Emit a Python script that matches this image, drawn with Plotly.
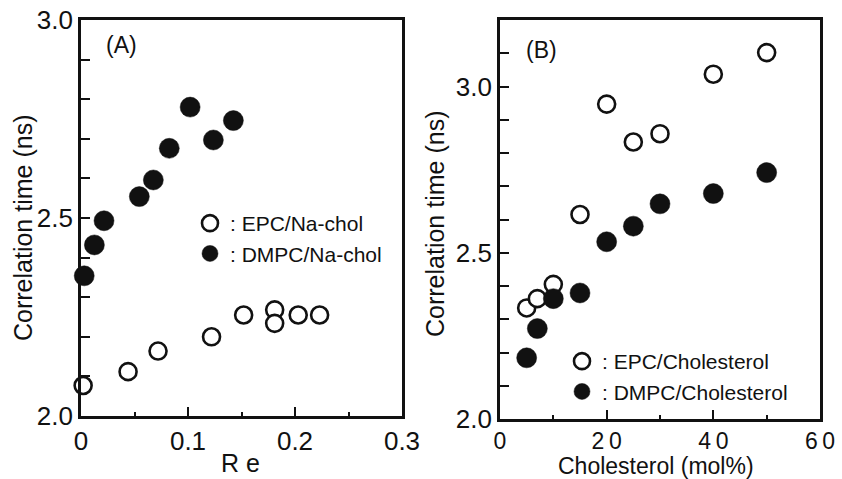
import plotly.graph_objects as go

# ---- Data ----
re_epc = [0.002, 0.044, 0.072, 0.122, 0.152, 0.181, 0.181, 0.203, 0.223]
tau_epc_na = [2.077, 2.112, 2.164, 2.200, 2.255, 2.268, 2.234, 2.255, 2.255]
re_dmpc = [0.003, 0.0125, 0.0215, 0.0545, 0.0676, 0.0825, 0.102, 0.1237, 0.1424]
tau_dmpc_na = [2.354, 2.432, 2.493, 2.554, 2.596, 2.676, 2.780, 2.697, 2.746]

chol_mol = [5, 7, 10, 15, 20, 25, 30, 40, 50]
tau_epc_chol = [2.334, 2.362, 2.405, 2.615, 2.947, 2.833, 2.858, 3.037, 3.102]
tau_dmpc_chol = [2.184, 2.272, 2.362, 2.379, 2.533, 2.580, 2.647, 2.678, 2.741]

# tick labels
a_x_tickvals = [0, 0.1, 0.2, 0.3]
a_x_ticktext = ["0", "0.1", "0.2", "0.3"]
a_x_minorvals = [0.05, 0.15, 0.25]
a_y_tickvals = [2.0, 2.1, 2.2, 2.3, 2.4, 2.5, 2.6, 2.7, 2.8, 2.9, 3.0]
a_y_ticktext = ["2.0", "", "", "", "", "2.5", "", "", "", "", "3.0"]
b_x_tickvals = [0, 20, 40, 60]
b_x_ticktext = ["0", "2\u20090", "4\u20090", "6\u20090"]
b_x_minorvals = [10, 30, 50]
b_y_tickvals = [2.0, 2.1, 2.2, 2.3, 2.4, 2.5, 2.6, 2.7, 2.8, 2.9, 3.0, 3.1]
b_y_ticktext = ["2.0", "", "", "", "", "2.5", "", "", "", "", "3.0", ""]

W, H = 842, 479
FONT = "Arial, Liberation Sans, Helvetica, sans-serif"
INK = "#111111"


def px(x):
    return x / W


def py(y):
    return 1 - y / H


open_marker = dict(symbol="circle", size=17, color="white",
                   line=dict(color=INK, width=2.6))
filled_marker = dict(symbol="circle", size=20, color=INK,
                     line=dict(color=INK, width=0.5))

fig = go.Figure()
fig.add_trace(go.Scatter(x=re_epc, y=tau_epc_na, mode="markers",
                         marker=open_marker, name=": EPC/Na-chol",
                         xaxis="x", yaxis="y", legend="legend",
                         cliponaxis=False))
fig.add_trace(go.Scatter(x=re_dmpc, y=tau_dmpc_na, mode="markers",
                         marker=filled_marker, name=": DMPC/Na-chol",
                         xaxis="x", yaxis="y", legend="legend",
                         cliponaxis=False))
fig.add_trace(go.Scatter(x=chol_mol, y=tau_epc_chol, mode="markers",
                         marker=open_marker, name=": EPC/Cholesterol",
                         xaxis="x2", yaxis="y2", legend="legend2",
                         cliponaxis=False))
fig.add_trace(go.Scatter(x=chol_mol, y=tau_dmpc_chol, mode="markers",
                         marker=filled_marker, name=": DMPC/Cholesterol",
                         xaxis="x2", yaxis="y2", legend="legend2",
                         cliponaxis=False))

axis_common = dict(showline=True, linewidth=2.6, linecolor=INK, mirror=True,
                   showgrid=False, zeroline=False, ticks="inside",
                   tickwidth=2.4, tickcolor=INK,
                   automargin=False, fixedrange=True)

fig.update_layout(
    width=W, height=H,
    margin=dict(l=0, r=0, t=0, b=0),
    paper_bgcolor="white", plot_bgcolor="white",
    font=dict(family=FONT, color=INK),
    xaxis=dict(**axis_common, domain=[px(81), px(402)], range=[0, 0.3],
               tickfont=dict(family=FONT, size=26, color=INK),
               tickmode="array", tickvals=a_x_tickvals, ticktext=a_x_ticktext,
               ticklen=9, ticklabelstandoff=0,
               minor=dict(ticks="inside", tickmode="array",
                          tickvals=a_x_minorvals, ticklen=4, tickwidth=2.4,
                          tickcolor=INK),
               anchor="y"),
    yaxis=dict(**axis_common, domain=[py(416), py(20)], range=[2.0, 3.0],
               tickfont=dict(family=FONT, size=26, color=INK),
               tickmode="array", tickvals=a_y_tickvals, ticktext=a_y_ticktext,
               ticklen=9, ticklabelstandoff=0, anchor="x"),
    xaxis2=dict(**axis_common, domain=[px(500), px(820)], range=[0, 60],
                tickfont=dict(family=FONT, size=23, color=INK),
                tickmode="array", tickvals=b_x_tickvals, ticktext=b_x_ticktext,
                ticklen=9, ticklabelstandoff=0,
                minor=dict(ticks="inside", tickmode="array",
                           tickvals=b_x_minorvals, ticklen=4, tickwidth=2.4,
                           tickcolor=INK),
                anchor="y2"),
    yaxis2=dict(**axis_common, domain=[py(419), py(20)], range=[2.0, 3.2],
                tickfont=dict(family=FONT, size=26, color=INK),
                tickmode="array", tickvals=b_y_tickvals, ticktext=b_y_ticktext,
                ticklen=9, ticklabelstandoff=0, anchor="x2"),
    legend=dict(x=px(190), y=py(203), xanchor="left", yanchor="top",
                bgcolor="rgba(0,0,0,0)", borderwidth=0,
                font=dict(family=FONT, size=21, color=INK),
                itemsizing="trace", tracegroupgap=0),
    legend2=dict(x=px(562), y=py(341), xanchor="left", yanchor="top",
                 bgcolor="rgba(0,0,0,0)", borderwidth=0,
                 font=dict(family=FONT, size=21, color=INK),
                 itemsizing="trace", tracegroupgap=0),
    showlegend=True,
)

ann_font = dict(family=FONT, size=25, color=INK)
annotations = [
    dict(text="Correlation time (ns)", x=px(23), y=py(228), textangle=-90),
    dict(text="Correlation time (ns)", x=px(435), y=py(224), textangle=-90),
    dict(text="R e", x=px(240), y=py(463)),
    dict(text="Cholesterol (mol%)", x=px(656), y=py(466),
         font=dict(family=FONT, size=23, color=INK), borderpad=0),
    dict(text="(A)", x=px(121), y=py(45), font=dict(family=FONT, size=23, color=INK)),
    dict(text="(B)", x=px(541), y=py(50), font=dict(family=FONT, size=23, color=INK)),
]
for a in annotations:
    a.setdefault("font", ann_font)
    a.update(xref="paper", yref="paper", showarrow=False,
             xanchor="center", yanchor="middle")
fig.update_layout(annotations=annotations)

fig.write_html("out.html")
